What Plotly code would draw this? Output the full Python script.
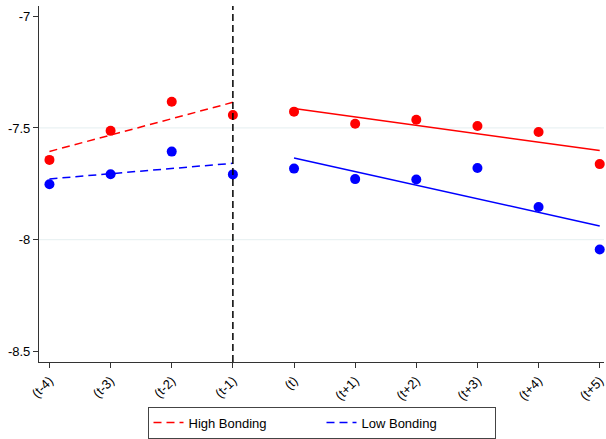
import numpy as np
import plotly.graph_objects as go

periods = ["(t-4)", "(t-3)", "(t-2)", "(t-1)", "(t)", "(t+1)", "(t+2)", "(t+3)", "(t+4)", "(t+5)"]
high_bonding = [-7.643, -7.513, -7.383, -7.442, -7.427, -7.481, -7.463, -7.491, -7.518, -7.662]
low_bonding = [-7.752, -7.707, -7.606, -7.708, -7.682, -7.729, -7.731, -7.679, -7.854, -8.044]
y_ticks = [-7, -7.5, -8, -8.5]
y_tick_labels = ["-7", "-7.5", "-8", "-8.5"]
grid_values = [-7.5, -8]
event_index = 3  # (t-1)

RED = "#ff0000"
BLUE = "#0000ff"
FONT = "Liberation Sans, Arial, sans-serif"

x = np.arange(len(periods))
pre = x <= event_index
post = x > event_index

fig = go.Figure()


def fit(xs, ys):
    b, a = np.polyfit(xs, ys, 1)
    return xs, a + b * xs


for name, vals, color in [("High Bonding", high_bonding, RED), ("Low Bonding", low_bonding, BLUE)]:
    v = np.array(vals)
    xs, ys = fit(x[pre], v[pre])
    fig.add_trace(go.Scatter(x=[xs[0], xs[-1]], y=[ys[0], ys[-1]], mode="lines", name=name,
                             line=dict(color=color, width=1.5, dash="8px,5px"), showlegend=True))
    xs, ys = fit(x[post], v[post])
    fig.add_trace(go.Scatter(x=[xs[0], xs[-1]], y=[ys[0], ys[-1]], mode="lines",
                             line=dict(color=color, width=1.5), showlegend=False))
    fig.add_trace(go.Scatter(x=x, y=v, mode="markers", marker=dict(color=color, size=10),
                             showlegend=False, cliponaxis=False))

for g in grid_values:
    fig.add_shape(type="line", xref="paper", x0=0, x1=1, yref="y", y0=g, y1=g,
                  line=dict(color="#eaf2f3", width=1.2), layer="below")

fig.add_shape(type="line", xref="x", x0=event_index, x1=event_index, yref="paper", y0=0, y1=1,
              line=dict(color="black", width=1.5, dash="7px,4px"))

fig.update_layout(
    width=606, height=439,
    margin=dict(l=39, r=0, t=6, b=76),
    plot_bgcolor="white", paper_bgcolor="white",
    font=dict(family=FONT, size=12, color="black"),
    legend=dict(orientation="h", x=0.5, xanchor="center", y=-0.125, yanchor="top",
                bordercolor="#444", borderwidth=1, font=dict(size=13),
                entrywidth=128),
)
fig.update_xaxes(range=[-0.171, 9.07], tickvals=list(x), ticktext=periods, tickangle=-45,
                 showgrid=False, zeroline=False, showline=True, linecolor="#333", linewidth=1.2,
                 ticks="outside", ticklen=5, tickcolor="#333", tickfont=dict(size=13),
                 ticklabeloverflow="allow")
fig.update_yaxes(range=[-8.548, -6.954], tickvals=y_ticks, ticktext=y_tick_labels,
                 showgrid=False, zeroline=False, showline=True, linecolor="#333", linewidth=1.2,
                 ticks="outside", ticklen=5, tickcolor="#333", tickfont=dict(size=13))

fig.write_html("out.html")
